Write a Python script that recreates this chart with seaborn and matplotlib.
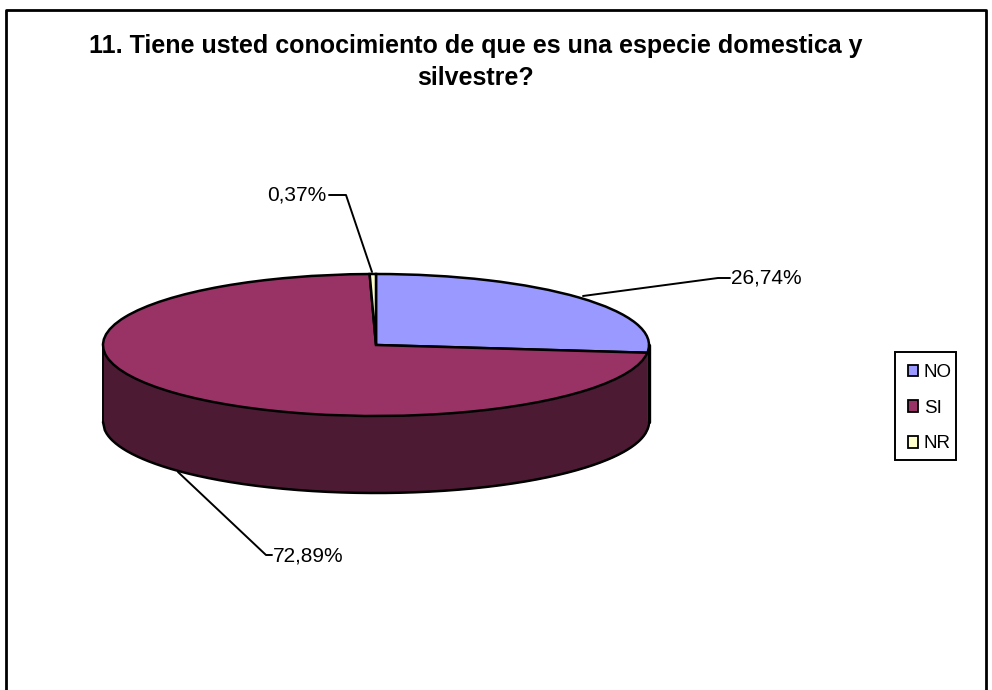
import numpy as np
import matplotlib
matplotlib.use('Agg')
import matplotlib.pyplot as plt
from matplotlib.patches import Rectangle
import seaborn as sns

labels = ['NO', 'SI', 'NR']
values = [26.74, 72.89, 0.37]
value_text = ['26,74%', '72,89%', '0,37%']
top_colors = ['#9999FF', '#993366', '#FFFFCC']
side_colors = ['#4D4D80', '#4D1A33', '#808066']
title = '11. Tiene usted conocimiento de que es una especie domestica y\nsilvestre?'

sns.set_theme(style='white')
plt.rcParams['font.family'] = ['Liberation Sans', 'DejaVu Sans']

# pie centre and radii in pixels of the 992x690 picture
cx, cy, rx, ry, depth_px = 376, 345, 273, 71, 77


def px(x, y):
    return (x - cx) / rx, (cy - y) / ry


fig = plt.figure(figsize=(9.92, 6.9), dpi=100)
ax = fig.add_axes([0, 0, 1, 1])

wedges, _ = ax.pie(values, colors=sns.color_palette(top_colors), startangle=90, counterclock=False,
                   radius=1, wedgeprops={'edgecolor': 'black', 'linewidth': 1.8, 'zorder': 3})
ax.set_aspect('auto')
ax.set_xlim(px(0, 0)[0], px(992, 0)[0])
ax.set_ylim(px(0, 690)[1], px(0, 0)[1])

# side wall of the disc
depth = depth_px / ry
end_angle = np.radians(90 - 360 * values[0] / 100)
split = np.cos(end_angle)
xs = np.linspace(-1, split, 300)
low = -np.sqrt(1 - xs ** 2)
ax.fill_between(xs, low, low - depth, color=side_colors[1], lw=0, zorder=1)
xs2 = np.linspace(split, 1, 30)
low2 = -np.sqrt(1 - xs2 ** 2)
low2[0] = np.sin(end_angle)
ax.fill_between(xs2, low2, low2 - depth, color='black', lw=0, zorder=1)
edge_x = np.concatenate([xs, xs2])
edge_y = np.concatenate([low, low2]) - depth
ax.plot(edge_x, edge_y, color='black', lw=1.8, zorder=2)
ax.plot([-1, -1], [0, -depth], color='black', lw=1.4, zorder=2)
ax.plot([1, 1], [0, -depth], color='black', lw=2.4, zorder=2)

# leader lines and value labels
leaders = [
    [(583, 296), (718, 278), (730, 278)],
    [(178, 472), (266, 555), (272, 555)],
    [(372, 272), (346, 195), (329, 195)],
]
text_pos = [(731, 278, 'left'), (273, 556, 'left'), (326, 195, 'right')]
for line, pos, txt in zip(leaders, text_pos, value_text):
    pts = np.array([px(*p) for p in line])
    ax.plot(pts[:, 0], pts[:, 1], color='black', lw=1.4, zorder=4)
    tx, ty = px(pos[0], pos[1])
    ax.text(tx, ty, txt, ha=pos[2], va='center', fontsize=15, color='black')

tx, ty = px(476, 62)
ax.text(tx, ty, title, ha='center', va='center', fontsize=18, fontweight='bold',
        color='black', linespacing=1.4)

# outer chart frame, open at the bottom of the crop
frame = np.array([px(*p) for p in [(6, 690), (6, 10), (986, 10), (986, 690)]])
ax.plot(frame[:, 0], frame[:, 1], color='black', lw=2, zorder=5, clip_on=False)

# legend box drawn separately, its text sits close to the right edge
bx0, by0 = px(895, 460)
bx1, by1 = px(956, 352)
ax.add_patch(Rectangle((bx0, by0), bx1 - bx0, by1 - by0, facecolor='white', edgecolor='black',
                       linewidth=1.4, zorder=5))
leg = ax.legend(wedges, labels, loc='upper left', bbox_to_anchor=px(908, 364),
                bbox_transform=ax.transData, fontsize=13.5, frameon=False, labelcolor='black',
                borderaxespad=0, borderpad=0, handlelength=0.55, handleheight=0.55,
                handletextpad=0.3, labelspacing=1.0)
leg.set_zorder(6)
for h in leg.legend_handles:
    h.set_linewidth(1.3)

plt.savefig('out.png', dpi=100)
